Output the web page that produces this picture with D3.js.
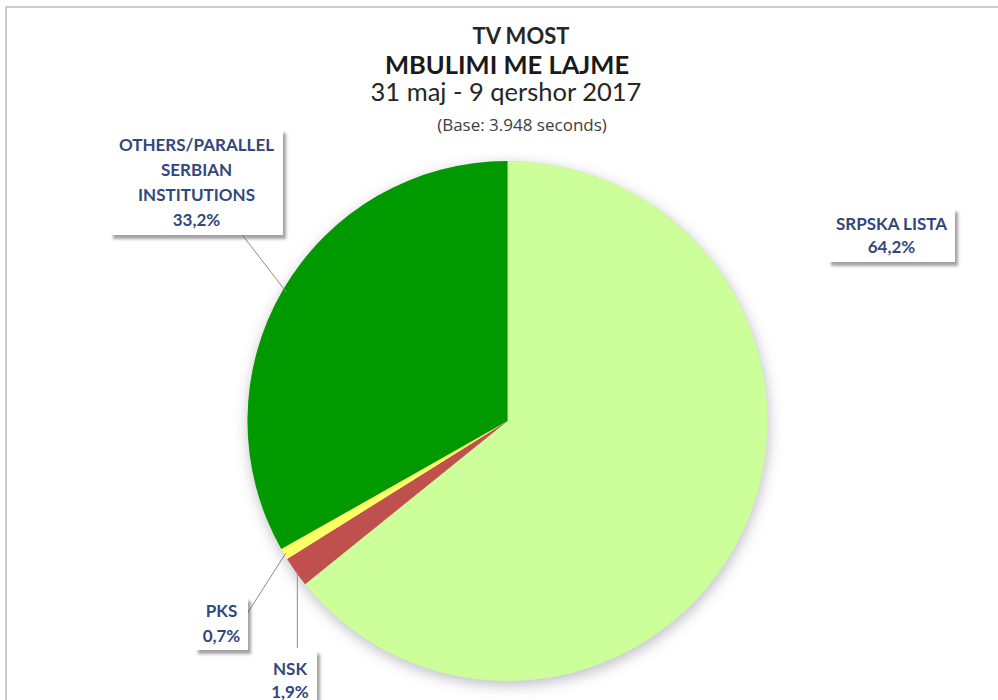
<!DOCTYPE html>
<html><head><meta charset="utf-8">
<script src="https://cdn.jsdelivr.net/npm/d3@7"></script>
<style>body{margin:0;background:#fff;}svg{display:block;}</style>
</head><body>
<svg id="c" width="998" height="700"></svg>
<script>
const categories = ["SRPSKA LISTA", "NSK", "PKS", "OTHERS/PARALLEL SERBIAN INSTITUTIONS"];
const values = [64.2, 1.9, 0.7, 33.2];
const valueLabels = ["64,2%", "1,9%", "0,7%", "33,2%"];
const labelLines = [["SRPSKA LISTA","64,2%"],["NSK","1,9%"],["PKS","0,7%"],["OTHERS/PARALLEL","SERBIAN","INSTITUTIONS","33,2%"]];
const colors = ["#CCFF99", "#C0504D", "#FFFF66", "#009900"];
const titleLines = ["TV MOST", "MBULIMI ME LAJME", "31 maj - 9 qershor 2017"];
const subtitle = "(Base: 3.948 seconds)";

const svg = d3.select("#c");
const defs = svg.append("defs");
const f1 = defs.append("filter").attr("id","pieShadow").attr("x","-20%").attr("y","-20%").attr("width","140%").attr("height","140%");
f1.append("feDropShadow").attr("dx",1).attr("dy",4).attr("stdDeviation",7).attr("flood-color","#6a6a80").attr("flood-opacity",0.45);
const f2 = defs.append("filter").attr("id","boxShadow").attr("x","-20%").attr("y","-20%").attr("width","150%").attr("height","150%");
f2.append("feDropShadow").attr("dx",3).attr("dy",4).attr("stdDeviation",1.5).attr("flood-color","#555").attr("flood-opacity",0.55);

// outer border
svg.append("rect").attr("x",6).attr("y",7).attr("width",1000).attr("height",710)
  .attr("fill","none").attr("stroke","#cccccc").attr("stroke-width",2);

// titles
const font = "Lato, 'Open Sans', sans-serif";
svg.append("text").attr("x",521).attr("y",44).attr("text-anchor","middle")
  .attr("font-family",font).attr("font-weight","bold").attr("font-size",22).attr("fill","#262626").text(titleLines[0]);
svg.append("text").attr("x",507).attr("y",74).attr("text-anchor","middle")
  .attr("font-family",font).attr("font-weight","bold").attr("font-size",25.5).attr("fill","#1a1a1a").text(titleLines[1]);
svg.append("text").attr("x",506).attr("y",101).attr("text-anchor","middle")
  .attr("font-family",font).attr("font-size",25.5).attr("fill","#262626").text(titleLines[2]);
svg.append("text").attr("x",522).attr("y",131).attr("text-anchor","middle")
  .attr("font-family","'Open Sans', sans-serif").attr("font-size",17).attr("fill","#404040").text(subtitle);

// pie
const cx = 507.5, cy = 421, r = 260;
const pie = d3.pie().sort(null).value(d => d);
const arcs = pie(values);
const arc = d3.arc().innerRadius(0).outerRadius(r);
const g = svg.append("g").attr("transform",`translate(${cx},${cy})`);
g.append("circle").attr("r",r).attr("fill","#ccc").attr("filter","url(#pieShadow)");
g.selectAll("path.s").data(arcs).join("path").attr("class","s")
  .attr("d",arc).attr("fill",(d,i)=>colors[i]);

// labels
const boxes = [
  {x:828, y:208, w:127, h:54},
  {x:263, y:650, w:54, h:60},
  {x:195, y:597, w:53, h:53},
  {x:110, y:129, w:173, h:106}
];
const lineH = [23, 23, 25, 25];
const edgePt = (d, rr) => { const a = (d.startAngle + d.endAngle)/2; return [cx + rr*Math.sin(a), cy - rr*Math.cos(a)]; };

// leader lines
const leaderCol = "#8c8c8c";
{ const p = edgePt(arcs[1], r-2); svg.append("path").attr("d",`M${p[0]},${p[1]} L${p[0]},${boxes[1].y-2}`)
  .attr("stroke",leaderCol).attr("fill","none").attr("stroke-width",1); }
{ const p = edgePt(arcs[2], r-2); svg.append("path").attr("d",`M${p[0]},${p[1]} L${245},${617} L${238},${617}`)
  .attr("stroke",leaderCol).attr("fill","none").attr("stroke-width",1); }
{ const p = edgePt(arcs[3], r-4); svg.append("path").attr("d",`M${p[0]},${p[1]} L${237},${228} L${226},${228}`)
  .attr("stroke",leaderCol).attr("fill","none").attr("stroke-width",1); }

boxes.forEach((b,i) => {
  const lg = svg.append("g");
  lg.append("rect").attr("x",b.x).attr("y",b.y).attr("width",b.w).attr("height",b.h)
    .attr("fill","#fff").attr("filter","url(#boxShadow)");
  const lines = labelLines[i];
  const total = lines.length;
  const firstBase = b.y + b.h/2 - (total-1)*lineH[i]/2 + 6;
  lines.forEach((t,k) => {
    lg.append("text").attr("x",b.x+b.w/2).attr("y",firstBase + k*lineH[i]).attr("text-anchor","middle")
      .attr("font-family",font).attr("font-weight","bold").attr("font-size",17).attr("fill","#33477c").text(t);
  });
});
</script>
</body></html>
